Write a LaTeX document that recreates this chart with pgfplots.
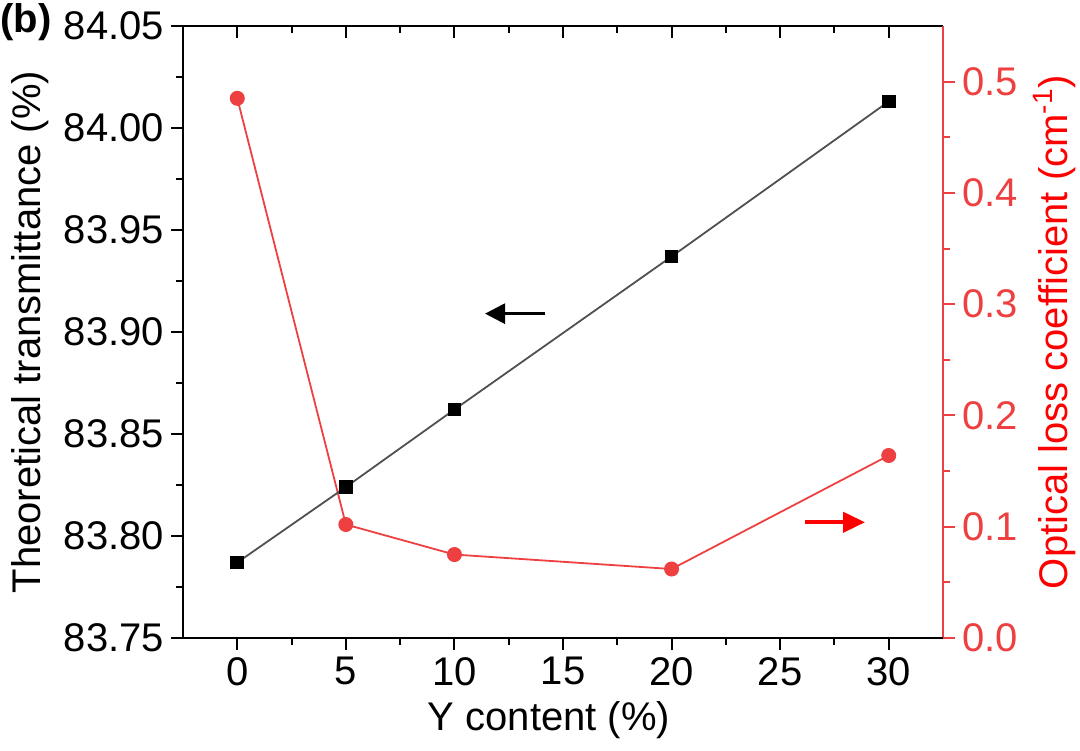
\documentclass[border=0pt]{standalone}
\usepackage{fontspec}
\setmainfont{Liberation Sans}
\usepackage{pgfplots}
\pgfplotsset{compat=1.18}
\usetikzlibrary{arrows.meta}
\definecolor{lred}{RGB}{238,64,64}
\definecolor{lgray}{RGB}{80,80,80}
\begin{document}
\begin{tikzpicture}
\pgfplotsset{
  every axis/.append style={
    scale only axis, width=380pt, height=306pt,
    at={(91.5pt,56pt)}, anchor=south west,
    xmin=-2.5, xmax=32.5,
    xtick={0,5,10,15,20,25,30}, minor x tick num=1,
    tick label style={font=\fontsize{20}{24}\selectfont},
    label style={font=\fontsize{20}{24}\selectfont},
    /pgf/number format/assume math mode=true,
    axis line style={line width=1pt},
    major tick length=6pt, minor tick length=3.5pt,
    tick style={line width=1pt},
  }
}
% top axis (ticks inward)
\begin{axis}[axis x line*=top, axis y line=none, tick align=inside,
  xticklabels={}, ymin=0, ymax=1, tick style={black}]
\end{axis}
% right axis
\begin{axis}[axis y line*=right, axis x line=none, tick align=outside,
  ymin=0, ymax=0.55, ytick={0,0.1,0.2,0.3,0.4,0.5}, minor y tick num=1,
  axis line style={lred, line width=1pt},
  y tick style={lred, line width=1pt},
  yticklabel style={text=lred, /pgf/number format/.cd, fixed, fixed zerofill, precision=1},
  ylabel={Optical loss coefficient (cm\textsuperscript{-1})},
  ylabel style={text=red, at={(axis description cs:1.147,0.5)}, rotate=0, anchor=center},
  ]
\addplot[lred, line width=0.9pt, mark=*, mark size=3.3pt, mark options={fill=lred, draw=lred}]
  coordinates {(0,0.485) (5,0.102) (10,0.075) (20,0.062) (30,0.164)};
\draw[-{Triangle[length=11pt,width=10pt]}, line width=2pt, red]
  (axis cs:26.14,0.104) -- (axis cs:28.91,0.104);
\end{axis}
% left axis
\begin{axis}[axis x line*=bottom, axis y line*=left, tick align=outside,
  ymin=83.75, ymax=84.05, ytick={83.75,83.80,83.85,83.90,83.95,84.00,84.05},
  minor y tick num=1, tick style={black},
  yticklabel style={/pgf/number format/.cd, fixed, fixed zerofill, precision=2},
  xlabel={Y content (\%)},
  xlabel style={at={(axis description cs:0.4816,-0.134)}, anchor=center},
  ylabel={Theoretical transmittance (\%)},
  ylabel style={at={(axis description cs:-0.2013,0.5)}, anchor=center},
  ]
\addplot[lgray, line width=0.9pt, mark=square*, mark size=3pt, mark options={fill=black, draw=black}]
  coordinates {(0,83.787) (5,83.824) (10,83.862) (20,83.937) (30,84.013)};
\draw[-{Triangle[length=10pt,width=10pt]}, line width=1.5pt, black]
  (axis cs:14.17,83.909) -- (axis cs:11.41,83.909);
\end{axis}
\node[font=\fontsize{20}{24}\selectfont\bfseries, anchor=west, inner sep=0pt] at (0pt,364pt) {(b)};
\pgfresetboundingbox
\useasboundingbox (0,0) rectangle (540pt,375pt);
\end{tikzpicture}
\end{document}
